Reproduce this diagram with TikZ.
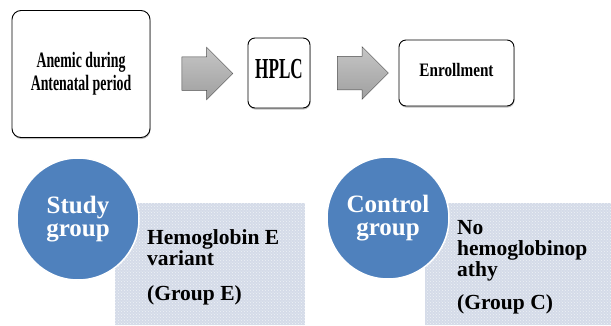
\documentclass[tikz,border=0pt]{standalone}
\usepackage{fontspec}
\setmainfont{Liberation Serif}
\usetikzlibrary{shapes.arrows,shadows,patterns,calc}

\definecolor{circblue}{HTML}{4F81BD}
\definecolor{panelblue}{HTML}{D4DBE8}

% squeeze text horizontally
\newcommand{\squeeze}[2]{\scalebox{#1}[1]{\bfseries\begin{tabular}{@{}c@{}}#2\end{tabular}}}

\begin{document}
\begin{tikzpicture}[x=1pt, y=-1pt,
    stepbox/.style={draw, line width=0.9pt, fill=white, rounded corners=9pt,
        drop shadow={shadow xshift=0.5pt, shadow yshift=-1.5pt, opacity=0.5}},
    blockarrow/.style={single arrow, draw=gray!60!black, line width=0.5pt,
        inner xsep=0pt, inner ysep=16.5pt,
        top color=gray!45, bottom color=gray!75, shading angle=0,
        minimum height=51pt, single arrow head extend=9.5pt},
    groupcirc/.style={circle, fill=circblue, draw=white, line width=1.5pt, minimum size=122pt,
        inner sep=0pt, text=white, align=center, font=\fontsize{25}{23}\selectfont\bfseries},
    panel/.style={fill=panelblue, postaction={pattern=crosshatch dots, pattern color=white!60!panelblue}},
    paneltext/.style={anchor=west, align=left, inner sep=0pt,
        font=\fontsize{21.5}{21}\selectfont\bfseries}]
    \useasboundingbox (0,0) rectangle (611,325);

    % top row
    \node[stepbox, minimum width=138pt, minimum height=127pt] (anemic) at (81,74)
        {\fontsize{22}{23}\selectfont\squeeze{0.63}{Anemic during\\Antenatal period}};
    \node[stepbox, rounded corners=7pt, minimum width=62pt, minimum height=70pt] (hplc) at (279,73)
        {\fontsize{29}{29}\selectfont\squeeze{0.59}{HPLC}};
    \node[stepbox, rounded corners=7pt, minimum width=115pt, minimum height=66pt] (enroll) at (456.5,73)
        {\fontsize{19}{19}\selectfont\squeeze{0.8}{Enrollment}};

    \node[blockarrow] (arrowA) at ($(anemic.east)!0.5!(hplc.west)$) {};
    \node[blockarrow] (arrowB) at ($(hplc.east)!0.5!(enroll.west)$) {};

    % groups
    \path[panel] (115,203) rectangle (305,325);
    \path[panel] (425,203) rectangle (611,325);
    \coordinate (panelE) at (115,264);
    \coordinate (panelC) at (425,264);

    \node[paneltext] (textE) at ($(panelE)+(32,3)$)
        {Hemoglobin E\\variant\\[14pt](Group E)};
    \node[paneltext] (textC) at ($(panelC)+(32,3)$)
        {No\\hemoglobinop\\athy\\[12pt](Group C)};

    \node[groupcirc] (study) at (78,219) {Study\\group};
    \node[groupcirc] (control) at (388,218) {Control\\group};
\end{tikzpicture}
\end{document}
